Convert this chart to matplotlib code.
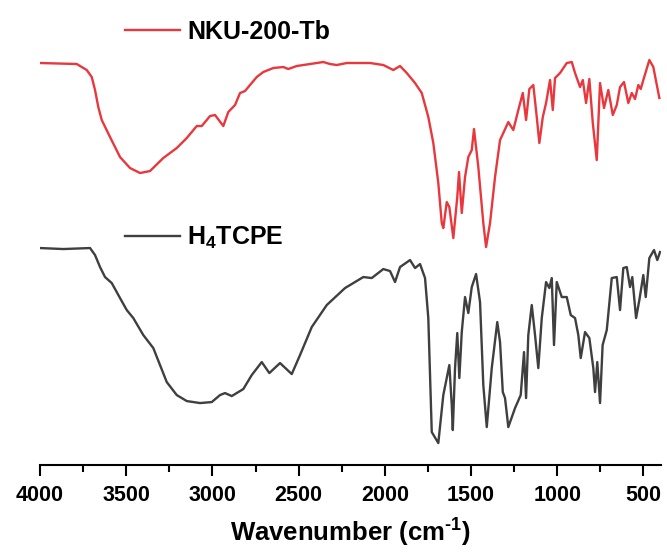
import numpy as np
import matplotlib.pyplot as plt
from matplotlib.ticker import MultipleLocator

# NKU-200-Tb spectrum (wavenumber cm-1, transmittance a.u.)
wn_tb = [4000, 3787, 3729, 3700, 3681, 3662, 3642, 3594, 3536, 3478, 3420, 3362,
         3285, 3207, 3149, 3091, 3062, 3014, 2985, 2937, 2908, 2869, 2840, 2811,
         2782, 2743, 2705, 2647, 2589, 2560, 2511, 2434, 2357, 2318, 2279, 2221,
         2086, 2009, 1951, 1912, 1873, 1825, 1786, 1748, 1719, 1690, 1670, 1661,
         1641, 1626, 1603, 1580, 1570, 1554, 1535, 1516, 1496, 1483, 1458, 1429,
         1413, 1390, 1361, 1332, 1313, 1284, 1255, 1226, 1200, 1181, 1162, 1139,
         1119, 1104, 1084, 1065, 1042, 1026, 1013, 984, 945, 916, 897, 868, 852,
         833, 814, 794, 771, 752, 729, 704, 678, 655, 636, 613, 588, 568, 549,
         530, 516, 501, 466, 443, 408]
t_tb = [402, 401, 395, 388, 375, 358, 345, 328, 308, 297, 292, 294,
        307, 317, 327, 339, 339, 349, 350, 339, 353, 360, 372, 374,
        380, 388, 393, 397, 398, 396, 399, 401, 403, 401, 400, 402,
        402, 400, 395, 399, 392, 382, 372, 348, 322, 282, 242, 237,
        263, 258, 227, 268, 293, 252, 288, 308, 315, 336, 298, 242,
        218, 242, 288, 325, 332, 343, 335, 355, 372, 345, 376, 380,
        348, 322, 348, 362, 385, 355, 387, 392, 402, 403, 392, 378, 385,
        362, 386, 342, 305, 382, 357, 375, 350, 360, 378, 383, 362, 372, 366,
        380, 376, 385, 405, 398, 367]

# H4TCPE spectrum
wn_h4 = [4000, 3865, 3710, 3681, 3652, 3623, 3584, 3536, 3497, 3459, 3401, 3343,
         3304, 3265, 3207, 3149, 3072, 3004, 2956, 2927, 2888, 2821, 2772, 2714,
         2670, 2608, 2540, 2492, 2424, 2337, 2231, 2125, 2076, 2009, 1970, 1941,
         1912, 1854, 1825, 1796, 1767, 1748, 1728, 1690, 1661, 1626, 1612, 1606,
         1593, 1580, 1568, 1554, 1535, 1516, 1496, 1471, 1448, 1429, 1409, 1380,
         1348, 1332, 1316, 1303, 1284, 1245, 1212, 1193, 1181, 1168, 1148, 1129,
         1110, 1090, 1065, 1046, 1032, 1019, 1003, 974, 945, 922, 897, 878, 864,
         839, 814, 791, 781, 768, 752, 737, 713, 684, 655, 636, 617, 597, 578,
         565, 543, 524, 501, 487, 466, 439, 420, 404]
t_h4 = [217, 216, 217, 210, 198, 188, 182, 167, 155, 147, 130, 117,
        100, 83, 70, 64, 62, 63, 70, 72, 69, 76, 90, 103,
        92, 102, 91, 110, 138, 160, 177, 188, 187, 196, 194, 183,
        198, 205, 197, 201, 187, 147, 33, 22, 70, 100, 60, 35,
        97, 132, 87, 133, 168, 152, 178, 191, 163, 80, 38, 97,
        143, 123, 73, 67, 38, 57, 70, 113, 67, 130, 160, 130,
        97, 147, 183, 177, 187, 120, 183, 168, 168, 150, 147, 130, 107,
        133, 127, 97, 73, 103, 62, 120, 135, 187, 188, 155, 197, 198, 178,
        188, 147, 165, 190, 168, 207, 215, 205, 213]

labels = ['NKU-200-Tb', 'H$_\\mathbf{4}$TCPE']
colors = ['#e8383d', '#3f3f3f']

plt.rcParams['font.family'] = ['Liberation Sans', 'DejaVu Sans']
plt.rcParams['mathtext.fontset'] = 'custom'
plt.rcParams['mathtext.rm'] = 'Liberation Sans:bold'
plt.rcParams['mathtext.bf'] = 'Liberation Sans:bold'

fig = plt.figure(figsize=(6.67, 5.53), dpi=100)
ax = fig.add_axes([0.06, 0.159, 0.9306, 0.841])

l1, = ax.plot(wn_tb, t_tb, color=colors[0], lw=1.7, solid_joinstyle='round')
l2, = ax.plot(wn_h4, t_h4, color=colors[1], lw=1.7, solid_joinstyle='round')

ax.set_xlim(4000, 400)
ax.set_ylim(0, 465)

leg1 = ax.legend([l1], [labels[0]], loc='center left', bbox_to_anchor=(0.1, 0.931),
                 frameon=False, handlelength=2.2, handletextpad=0.3,
                 prop={'weight': 'bold', 'size': 18})
ax.add_artist(leg1)
ax.legend([l2], [labels[1]], loc='center left', bbox_to_anchor=(0.1, 0.488),
          frameon=False, handlelength=2.2, handletextpad=0.3,
          prop={'weight': 'bold', 'size': 18})

for s in ['top', 'right', 'left']:
    ax.spines[s].set_visible(False)
ax.spines['bottom'].set_linewidth(1.5)
ax.set_yticks([])
ax.xaxis.set_major_locator(MultipleLocator(500))
ax.xaxis.set_minor_locator(MultipleLocator(250))
ax.tick_params(axis='x', which='major', length=8, width=1.5, labelsize=15.5, pad=6)
ax.tick_params(axis='x', which='minor', length=5, width=1.5)
for t in ax.get_xticklabels():
    t.set_fontweight('bold')
ax.set_xlabel('Wavenumber (cm$^{\\text{-}1}$)', fontsize=18.5, fontweight='bold', labelpad=7)

plt.savefig('out.png')
